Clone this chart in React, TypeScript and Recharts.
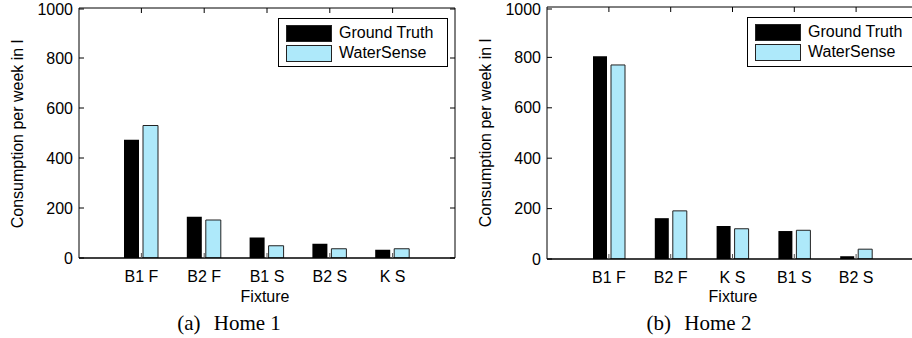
import { BarChart, Bar, XAxis, YAxis, Legend } from 'recharts';

// Home 1
const fixtures1 = ['B1 F', 'B2 F', 'B1 S', 'B2 S', 'K S'];
const truth1 = [473, 165, 82, 57, 33];
const sense1 = [530, 152, 49, 37, 37];

// Home 2
const fixtures2 = ['B1 F', 'B2 F', 'K S', 'B1 S', 'B2 S'];
const truth2 = [805, 162, 131, 111, 11];
const sense2 = [770, 191, 120, 114, 39];

const yTicks = [0, 200, 400, 600, 800, 1000];

const FONT = '"Liberation Sans", Arial, Helvetica, sans-serif';
const SERIF = '"Liberation Serif", "Times New Roman", serif';
const LIGHT = '#aee9fa';

const LeftTick = (p: any) => (
  <g>
    <line x1={p.x} x2={p.x + 5} y1={p.y} y2={p.y} stroke="#000" />
    <text x={p.x - 6} y={p.y} textAnchor="end" dominantBaseline="central" fontSize={16} fontFamily={FONT} fill="#000">
      {p.payload.value}
    </text>
  </g>
);
const RightTick = (p: any) => <line x1={p.x} x2={p.x - 5} y1={p.y} y2={p.y} stroke="#000" />;
const BottomTick = (p: any) => (
  <g>
    <line x1={p.x} x2={p.x} y1={p.y} y2={p.y - 5} stroke="#555" />
    <text x={p.x} y={p.y + 24} textAnchor="middle" fontSize={16} fontFamily={FONT} fill="#000">
      {p.payload.value}
    </text>
  </g>
);
const TopTick = (p: any) => <line x1={p.x} x2={p.x} y1={p.y} y2={p.y + 5} stroke="#000" />;

const LegendBox = (props: any) => (
  <div
    style={{
      width: props.boxW,
      height: props.boxH,
      border: '1px solid #000',
      background: '#fff',
      boxSizing: 'border-box',
      paddingTop: 4,
      fontFamily: FONT,
      fontSize: 16,
    }}
  >
    {(props.payload || []).map((it: any) => (
      <div key={it.value} style={{ display: 'flex', alignItems: 'center', height: 20 }}>
        <span
          style={{
            display: 'inline-block',
            width: 46,
            height: 17,
            marginLeft: 7,
            marginRight: 7,
            background: it.color,
            border: '1px solid #222',
            boxSizing: 'border-box',
          }}
        />
        <span style={{ color: '#000' }}>{it.value}</span>
      </div>
    ))}
  </div>
);

interface PanelProps {
  names: string[];
  truth: number[];
  sense: number[];
  left: number;
  width: number;
  yAxisW: number;
  top: number;
  xAxisH: number;
  right: number;
  barSize: number;
  legendLeft: number;
  legendTop: number;
  legendH: number;
}

const Panel = (p: PanelProps) => {
  const data = p.names.map((name, i) => ({ name, truth: p.truth[i], sense: p.sense[i] }));
  return (
    <div style={{ position: 'absolute', left: p.left, top: 0 }}>
      <BarChart
        width={p.width}
        height={338}
        data={data}
        margin={{ top: p.top - 1, right: p.right - 1, left: 0, bottom: 0 }}
        barSize={p.barSize}
        barGap={4}
      >
        <XAxis
          dataKey="name"
          height={p.xAxisH}
          padding={{ left: 31, right: 31 }}
          tickSize={0}
          tickMargin={0}
          tick={BottomTick}
          axisLine={{ stroke: '#000', strokeWidth: 1.5 }}
          interval={0}
        />
        <XAxis
          xAxisId="top"
          orientation="top"
          dataKey="name"
          height={1}
          padding={{ left: 31, right: 31 }}
          tickSize={0}
          tickMargin={0}
          tick={TopTick}
          axisLine={{ stroke: '#000' }}
          interval={0}
        />
        <YAxis
          type="number"
          domain={[0, 1000]}
          ticks={yTicks}
          width={p.yAxisW}
          tickSize={0}
          tickMargin={0}
          tick={LeftTick}
          axisLine={{ stroke: '#000' }}
          allowDataOverflow
        />
        <YAxis
          yAxisId="right"
          orientation="right"
          type="number"
          domain={[0, 1000]}
          ticks={yTicks}
          width={1}
          tickSize={0}
          tickMargin={0}
          tick={RightTick}
          axisLine={{ stroke: '#000' }}
          allowDataOverflow
        />
        <Legend
          layout="vertical"
          align="center"
          verticalAlign="middle"
          wrapperStyle={{ left: p.legendLeft, top: p.legendTop, width: 170, height: p.legendH }}
          content={(lp: any) => <LegendBox {...lp} boxW={170} boxH={p.legendH} />}
        />
        <Bar dataKey="truth" name="Ground Truth" fill="#000" isAnimationActive={false} />
        <Bar dataKey="sense" name="WaterSense" fill={LIGHT} stroke="#222" strokeWidth={1} isAnimationActive={false} />
      </BarChart>
    </div>
  );
};

export default function App() {
  return (
    <div
      style={{
        position: 'absolute',
        left: 0,
        top: 0,
        width: 912,
        height: 338,
        overflow: 'hidden',
        background: '#fff',
      }}
    >
      <Panel
        names={fixtures1}
        truth={truth1}
        sense={sense1}
        left={0}
        width={460}
        yAxisW={79}
        top={8}
        xAxisH={80}
        right={5}
        barSize={15}
        legendLeft={278}
        legendTop={18}
        legendH={49}
      />
      <Panel
        names={fixtures2}
        truth={truth2}
        sense={sense2}
        left={460}
        width={465}
        yAxisW={87}
        top={7}
        xAxisH={79}
        right={7}
        barSize={14}
        legendLeft={287}
        legendTop={17}
        legendH={50}
      />
      <svg width={912} height={338} style={{ position: 'absolute', left: 0, top: 0, pointerEvents: 'none' }}>
        <g fontFamily={FONT} fontSize={16} fill="#000">
          <text x={17} y={134} textAnchor="middle" dominantBaseline="central" transform="rotate(-90, 17, 134)">
            Consumption per week in l
          </text>
          <text x={485} y={133} textAnchor="middle" dominantBaseline="central" transform="rotate(-90, 485, 133)">
            Consumption per week in l
          </text>
          <text x={265} y={302} textAnchor="middle">Fixture</text>
          <text x={733} y={302} textAnchor="middle">Fixture</text>
        </g>
        <g fontFamily={SERIF} fontSize={21} fill="#000">
          <text x={229} y={330} textAnchor="middle">
            <tspan>(a)</tspan>
            <tspan dx={8}> Home 1</tspan>
          </text>
          <text x={699} y={330} textAnchor="middle">
            <tspan>(b)</tspan>
            <tspan dx={8}> Home 2</tspan>
          </text>
        </g>
      </svg>
    </div>
  );
}
